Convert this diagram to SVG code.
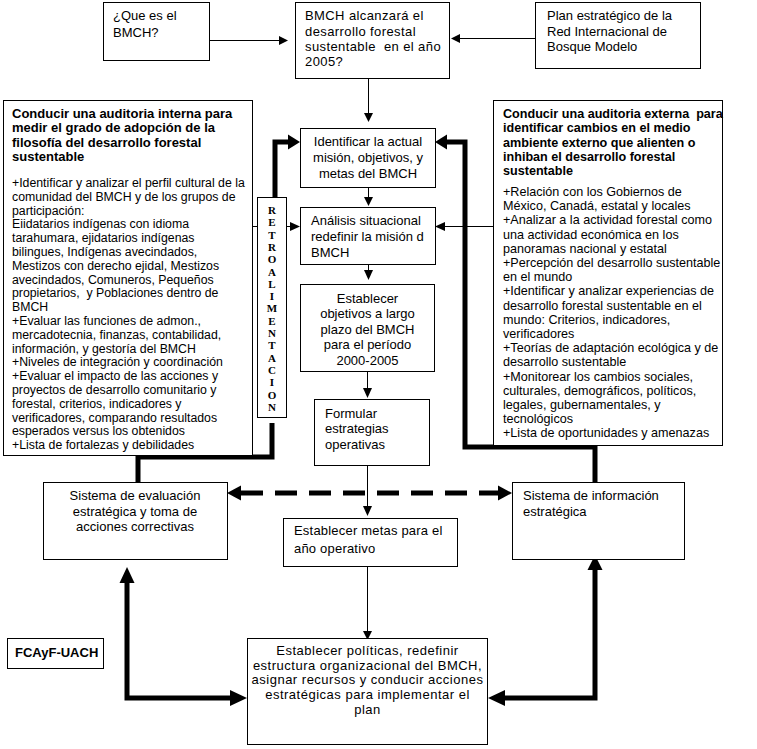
<svg xmlns="http://www.w3.org/2000/svg" width="757" height="749" viewBox="0 0 757 749">
<style>
.box{fill:#fff;stroke:#000;stroke-width:1}
.t{font-family:"Liberation Sans",Arial,sans-serif;font-size:13px;fill:#000}
.c{text-anchor:middle}
.b{font-family:"Liberation Sans",Arial,sans-serif;font-size:13px;font-weight:bold;fill:#000}
.b2{font-family:"Liberation Sans",Arial,sans-serif;font-size:12.6px;font-weight:bold;fill:#000}
.s{font-family:"Liberation Sans",Arial,sans-serif;font-size:12.3px;fill:#000}
.r{font-family:"Liberation Sans",Arial,sans-serif;font-size:12.6px;fill:#000}
.rl{font-family:"Liberation Serif","Times New Roman",serif;font-size:11px;font-weight:bold;text-anchor:middle;fill:#000}
.thin{fill:none;stroke:#000;stroke-width:1}
.thick{fill:none;stroke:#000;stroke-width:5}
.dash{fill:none;stroke:#000;stroke-width:5;stroke-dasharray:22 12}
.ah{fill:#000;stroke:none}
</style>
<g id="connectors">
  <line class="thin" x1="209" y1="40.5" x2="280" y2="40.5"/>
  <polygon class="ah" points="288,40.5 279,36 279,45"/>
  <line class="thin" x1="535" y1="38.5" x2="458" y2="38.5"/>
  <polygon class="ah" points="451,38.5 460,34 460,43"/>
  <line class="thin" x1="368.5" y1="78" x2="368.5" y2="114"/>
  <polygon class="ah" points="368.5,122 364,113 373,113"/>
  <line class="thin" x1="368.5" y1="187" x2="368.5" y2="198"/>
  <polygon class="ah" points="368.5,206 364,197 373,197"/>
  <line class="thin" x1="368.5" y1="264" x2="368.5" y2="271"/>
  <polygon class="ah" points="368.5,280 364,270 373,270"/>
  <line class="thin" x1="367.5" y1="371" x2="367.5" y2="389"/>
  <polygon class="ah" points="367.5,398 363,388 372,388"/>
  <line class="thin" x1="367.5" y1="465" x2="367.5" y2="507"/>
  <polygon class="ah" points="367.5,516 363,506 372,506"/>
  <line class="thin" x1="367.5" y1="566" x2="367.5" y2="631"/>
  <polygon class="ah" points="367.5,640 363,631 372,631"/>
  <line class="thin" x1="252" y1="226.5" x2="292" y2="226.5"/>
  <polygon class="ah" points="300,226.5 290,222 290,231"/>
  <line class="thin" x1="493" y1="226.5" x2="444" y2="226.5"/>
  <polygon class="ah" points="435,226.5 445,222 445,231"/>
  <path class="thick" d="M275,197 V142 H290"/>
  <polygon class="ah" points="300,142 288,134.5 288,149.5"/>
  <path class="thick" d="M138,482 V457 H272 V423"/>
  <path class="thick" d="M595,482 V447 H465 V142 H446"/>
  <polygon class="ah" points="435,142 447,134.5 447,149.5"/>
  <line class="dash" x1="241" y1="493" x2="499" y2="493"/>
  <polygon class="ah" points="227,493 241,485.5 241,500.5"/>
  <polygon class="ah" points="512,493 498,485.5 498,500.5"/>
  <path class="thick" d="M127,582 V698 H232"/>
  <polygon class="ah" points="127,567 119.5,583 134.5,583"/>
  <polygon class="ah" points="247,698 230,690 230,706"/>
  <path class="thick" d="M595,569 V698 H503"/>
  <polygon class="ah" points="595,555 587.5,570 602.5,570"/>
  <polygon class="ah" points="488,698 505,690 505,706"/>
</g>
<g id="que">
  <rect class="box" x="103.5" y="2.5" width="106" height="58"/>
  <text class="t" x="113" y="20">¿Que es el</text>
  <text class="t" x="113" y="37">BMCH?</text>
</g>
<g id="bmch">
  <rect class="box" x="295.5" y="2.5" width="154" height="76"/>
  <text class="t" x="305" y="20" letter-spacing="0.4">BMCH alcanzará el</text>
  <text class="t" x="305" y="36" letter-spacing="0.4">desarrollo forestal</text>
  <text class="t" x="305" y="51" letter-spacing="0.4" xml:space="preserve">sustentable  en el año</text>
  <text class="t" x="305" y="66" letter-spacing="0.4">2005?</text>
</g>
<g id="plan">
  <rect class="box" x="535.5" y="2.5" width="165" height="66"/>
  <text class="t" x="547" y="20">Plan estratégico de la</text>
  <text class="t" x="547" y="36">Red Internacional de</text>
  <text class="t" x="547" y="51">Bosque Modelo</text>
</g>
<g id="identificar">
  <rect class="box" x="300.5" y="128.5" width="135" height="59"/>
  <text class="t c" x="368" y="146">Identificar la actual</text>
  <text class="t c" x="368" y="162">misión, objetivos, y</text>
  <text class="t c" x="368" y="177.5">metas del BMCH</text>
</g>
<g id="analisis">
  <rect class="box" x="300.5" y="207.5" width="135" height="57"/>
  <text class="t" x="311" y="224.5">Análisis situacional</text>
  <text class="t" x="311" y="240.5">redefinir la misión d</text>
  <text class="t" x="311" y="256.5">BMCH</text>
</g>
<g id="objetivos">
  <rect class="box" x="300.5" y="284.5" width="134" height="87"/>
  <text class="t c" x="367.5" y="302.5">Establecer</text>
  <text class="t c" x="367.5" y="318">objetivos a largo</text>
  <text class="t c" x="367.5" y="333.5">plazo del BMCH</text>
  <text class="t c" x="367.5" y="349">para el período</text>
  <text class="t c" x="367.5" y="364.5">2000-2005</text>
</g>
<g id="formular">
  <rect class="box" x="314.5" y="399.5" width="115" height="66"/>
  <text class="t" x="325" y="417.5">Formular</text>
  <text class="t" x="325" y="433">estrategias</text>
  <text class="t" x="325" y="448.5">operativas</text>
</g>
<g id="metas">
  <rect class="box" x="283.5" y="518.5" width="174" height="48"/>
  <text class="t" x="294" y="535" letter-spacing="0.2">Establecer metas para el</text>
  <text class="t" x="294" y="552.5" letter-spacing="0.2">año operativo</text>
</g>
<g id="politicas">
  <rect class="box" x="247.5" y="638.5" width="240" height="106"/>
  <text class="t c" x="367.5" y="654.5" letter-spacing="0.5">Establecer políticas, redefinir</text>
  <text class="t c" x="367.5" y="669.5" letter-spacing="0.5">estructura organizacional del BMCH,</text>
  <text class="t c" x="367.5" y="684" letter-spacing="0.5">asignar recursos y conducir acciones</text>
  <text class="t c" x="367.5" y="699" letter-spacing="0.5">estratégicas para implementar el</text>
  <text class="t c" x="367.5" y="713.5" letter-spacing="0.5">plan</text>
</g>
<g id="evaluacion">
  <rect class="box" x="43.5" y="482.5" width="184" height="77"/>
  <text class="t c" x="135" y="499.5">Sistema de evaluación</text>
  <text class="t c" x="135" y="516">estratégica y toma de</text>
  <text class="t c" x="135" y="531">acciones correctivas</text>
</g>
<g id="informacion">
  <rect class="box" x="512.5" y="482.5" width="172" height="77"/>
  <text class="t" x="523" y="499.5">Sistema de información</text>
  <text class="t" x="523" y="516">estratégica</text>
</g>
<g id="auditoria-interna">
  <rect class="box" x="3.5" y="100.5" width="249" height="355"/>
  <text class="b" x="12" y="117.5">Conducir una auditoria interna para</text>
  <text class="b" x="12" y="132">medir el grado de adopción de la</text>
  <text class="b" x="12" y="146.5">filosofía del desarrollo forestal</text>
  <text class="b" x="12" y="161">sustentable</text>
  <text class="s" x="12" y="187">+Identificar y analizar el perfil cultural de la</text>
  <text class="s" x="12" y="200.8">comunidad del BMCH y de los grupos de</text>
  <text class="s" x="12" y="214.6">participación:</text>
  <text class="s" x="12" y="228.4">Eiidatarios indígenas con idioma</text>
  <text class="s" x="12" y="242.2">tarahumara, ejidatarios indígenas</text>
  <text class="s" x="12" y="256">bilingues, Indígenas avecindados,</text>
  <text class="s" x="12" y="269.8">Mestizos con derecho ejidal, Mestizos</text>
  <text class="s" x="12" y="283.6">avecindados, Comuneros, Pequeños</text>
  <text class="s" x="12" y="297.4" xml:space="preserve">propietarios,  y Poblaciones dentro de</text>
  <text class="s" x="12" y="311.2">BMCH</text>
  <text class="s" x="12" y="325">+Evaluar las funciones de admon.,</text>
  <text class="s" x="12" y="338.8">mercadotecnia, finanzas, contabilidad,</text>
  <text class="s" x="12" y="352.6">información, y gestoría del BMCH</text>
  <text class="s" x="12" y="366.4">+Niveles de integración y coordinación</text>
  <text class="s" x="12" y="380.2">+Evaluar el impacto de las acciones y</text>
  <text class="s" x="12" y="394">proyectos de desarrollo comunitario y</text>
  <text class="s" x="12" y="407.8">forestal, criterios, indicadores y</text>
  <text class="s" x="12" y="421.6">verificadores, comparando resultados</text>
  <text class="s" x="12" y="435.4">esperados versus los obtenidos</text>
  <text class="s" x="12" y="449.2">+Lista de fortalezas y debilidades</text>
</g>
<g id="auditoria-externa">
  <rect class="box" x="493.5" y="100.5" width="229" height="345"/>
  <text class="b2" x="503" y="117.5" xml:space="preserve">Conducir una auditoria externa  para</text>
  <text class="b2" x="503" y="132">identificar cambios en el medio</text>
  <text class="b2" x="503" y="146.5">ambiente externo que alienten o</text>
  <text class="b2" x="503" y="161">inhiban el desarrollo forestal</text>
  <text class="b2" x="503" y="175">sustentable</text>
  <text class="r" x="503" y="196">+Relación con los Gobiernos de</text>
  <text class="r" x="503" y="210.2">México, Canadá, estatal y locales</text>
  <text class="r" x="503" y="224.4">+Analizar a la actividad forestal como</text>
  <text class="r" x="503" y="238.6">una actividad económica en los</text>
  <text class="r" x="503" y="252.8">panoramas nacional y estatal</text>
  <text class="r" x="503" y="267">+Percepción del desarrollo sustentable</text>
  <text class="r" x="503" y="281.2">en el mundo</text>
  <text class="r" x="503" y="295.4">+Identificar y analizar experiencias de</text>
  <text class="r" x="503" y="309.6">desarrollo forestal sustentable en el</text>
  <text class="r" x="503" y="323.8">mundo: Criterios, indicadores,</text>
  <text class="r" x="503" y="338">verificadores</text>
  <text class="r" x="503" y="352.2">+Teorías de adaptación ecológica y de</text>
  <text class="r" x="503" y="366.4">desarrollo sustentable</text>
  <text class="r" x="503" y="380.6">+Monitorear los cambios sociales,</text>
  <text class="r" x="503" y="394.8">culturales, demográficos, políticos,</text>
  <text class="r" x="503" y="409">legales, gubernamentales, y</text>
  <text class="r" x="503" y="423.2">tecnológicos</text>
  <text class="r" x="503" y="437.4">+Lista de oportunidades y amenazas</text>
</g>
<g id="retroalimentacion">
  <rect class="box" x="257.5" y="197.5" width="29" height="220"/>
  <text class="rl" x="272" y="214">R</text>
  <text class="rl" x="272" y="226.3">E</text>
  <text class="rl" x="272" y="238.6">T</text>
  <text class="rl" x="272" y="250.9">R</text>
  <text class="rl" x="272" y="263.2">O</text>
  <text class="rl" x="272" y="275.5">A</text>
  <text class="rl" x="272" y="287.8">L</text>
  <text class="rl" x="272" y="300.1">I</text>
  <text class="rl" x="272" y="312.4">M</text>
  <text class="rl" x="272" y="324.7">E</text>
  <text class="rl" x="272" y="337">N</text>
  <text class="rl" x="272" y="349.3">T</text>
  <text class="rl" x="272" y="361.6">A</text>
  <text class="rl" x="272" y="373.9">C</text>
  <text class="rl" x="272" y="386.2">I</text>
  <text class="rl" x="272" y="398.5">O</text>
  <text class="rl" x="272" y="410.8">N</text>
</g>
<g id="fcayf">
  <rect class="box" x="7.5" y="638.5" width="96" height="30"/>
  <text class="b" x="15" y="657" font-size="11.5">FCAyF-UACH</text>
</g>
</svg>
